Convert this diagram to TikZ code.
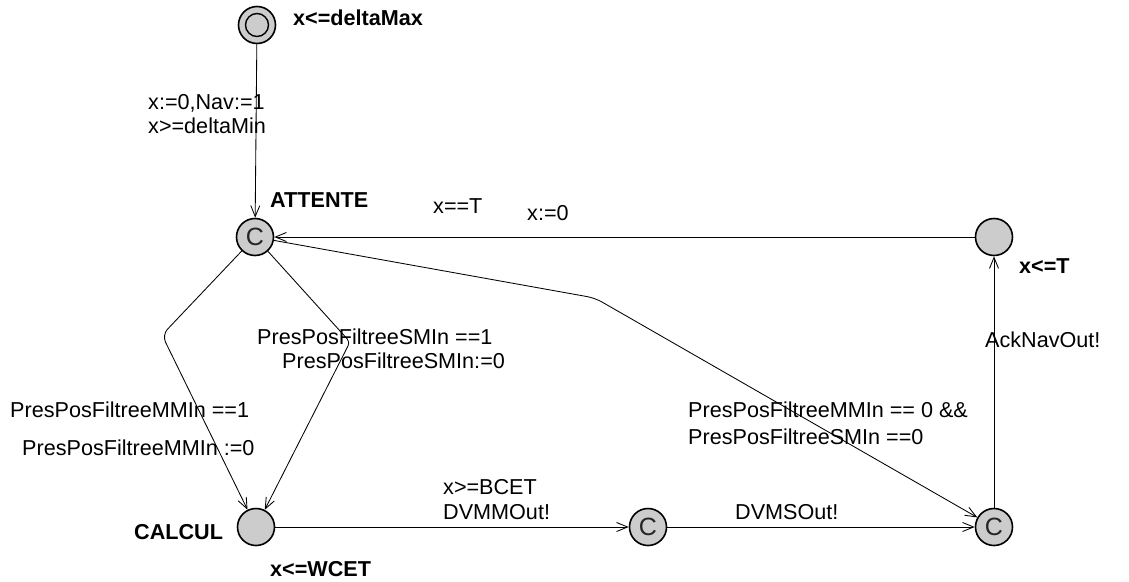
\documentclass[tikz,border=0pt]{standalone}
\usepackage{fontspec}
\setmainfont{Liberation Sans}
\usetikzlibrary{arrows.meta}
\definecolor{locfill}{HTML}{CCCCCC}
\tikzset{
  loc/.style={circle, draw=black, line width=1.6pt, fill=locfill, minimum size=37pt, inner sep=0pt},
  comm/.style={loc, font=\fontsize{25}{27}\selectfont, text=black!85},
  edge/.style={line width=0.85pt, -{Straight Barb[length=11pt,width=9pt,line width=0.85pt]}},
  lbl/.style={anchor=base west, inner sep=0pt, font=\fontsize{21.6}{25}\selectfont},
  blbl/.style={lbl, font=\fontsize{21.6}{25}\selectfont\bfseries},
}
\begin{document}
\begin{tikzpicture}[x=1pt,y=-1pt]
\useasboundingbox (0,0) rectangle (1129,581);
% locations
\node[loc] (init) at (257,25) {};
\draw[line width=1.4pt] (init.center) circle (11.5pt);
\node[comm] (att) at (255,237) {C};
\node[loc] (tt) at (994,237) {};
\node[loc] (cal) at (256,527) {};
\node[comm] (mid) at (648,527) {C};
\node[comm] (br) at (994,527) {C};
% nails
\coordinate (n1) at (162,335);
\coordinate (n2) at (350,342);
\coordinate (n3) at (595,298);
% edges
\draw[edge] (init) -- (att);
\draw[edge] (tt) -- (att);
\draw[edge, rounded corners=8pt] (att) -- (n1) -- (cal);
\draw[edge, rounded corners=4pt] (att) -- (n2) -- (cal);
\draw[edge, rounded corners=8pt] (att) -- (n3) -- (br);
\draw[edge] (cal) -- (mid);
\draw[edge] (mid) -- (br);
\draw[edge] (br) -- (tt);
% location labels
\node[blbl] (linit) at (293,25.5) {x<=deltaMax};
\node[blbl] (latt) at (270,207.5) {ATTENTE};
\node[blbl] (ltt) at (1019,273.5) {x<=T};
\node[blbl] (lcal) at (134,539.5) {CALCUL};
\node[blbl] (lcal2) at (270,576.5) {x<=WCET};
% edge labels
\node[lbl] (e1) at (148,109.5) {x:=0,Nav:=1};
\node[lbl] (e2) at (148,133.5) {x>=deltaMin};
\node[lbl] (e3) at (433,213.5) {x==T};
\node[lbl] (e4) at (527,220.5) {x:=0};
\node[lbl] (e5) at (985,347.5) {AckNavOut!};
\node[lbl] (e6) at (257,344.5) {PresPosFiltreeSMIn ==1};
\node[lbl] (e7) at (282,368.5) {PresPosFiltreeSMIn:=0};
\node[lbl] (e8) at (10,417.5) {PresPosFiltreeMMIn ==1};
\node[lbl] (e9) at (22,455.5) {PresPosFiltreeMMIn :=0};
\node[lbl] (e10) at (688,417.5) {PresPosFiltreeMMIn == 0 \&\&};
\node[lbl] (e11) at (688,444.5) {PresPosFiltreeSMIn ==0};
\node[lbl] (e12) at (443,494.5) {x>=BCET};
\node[lbl] (e13) at (443,519.5) {DVMMOut!};
\node[lbl] (e14) at (735,519.5) {DVMSOut!};
\end{tikzpicture}
\end{document}
